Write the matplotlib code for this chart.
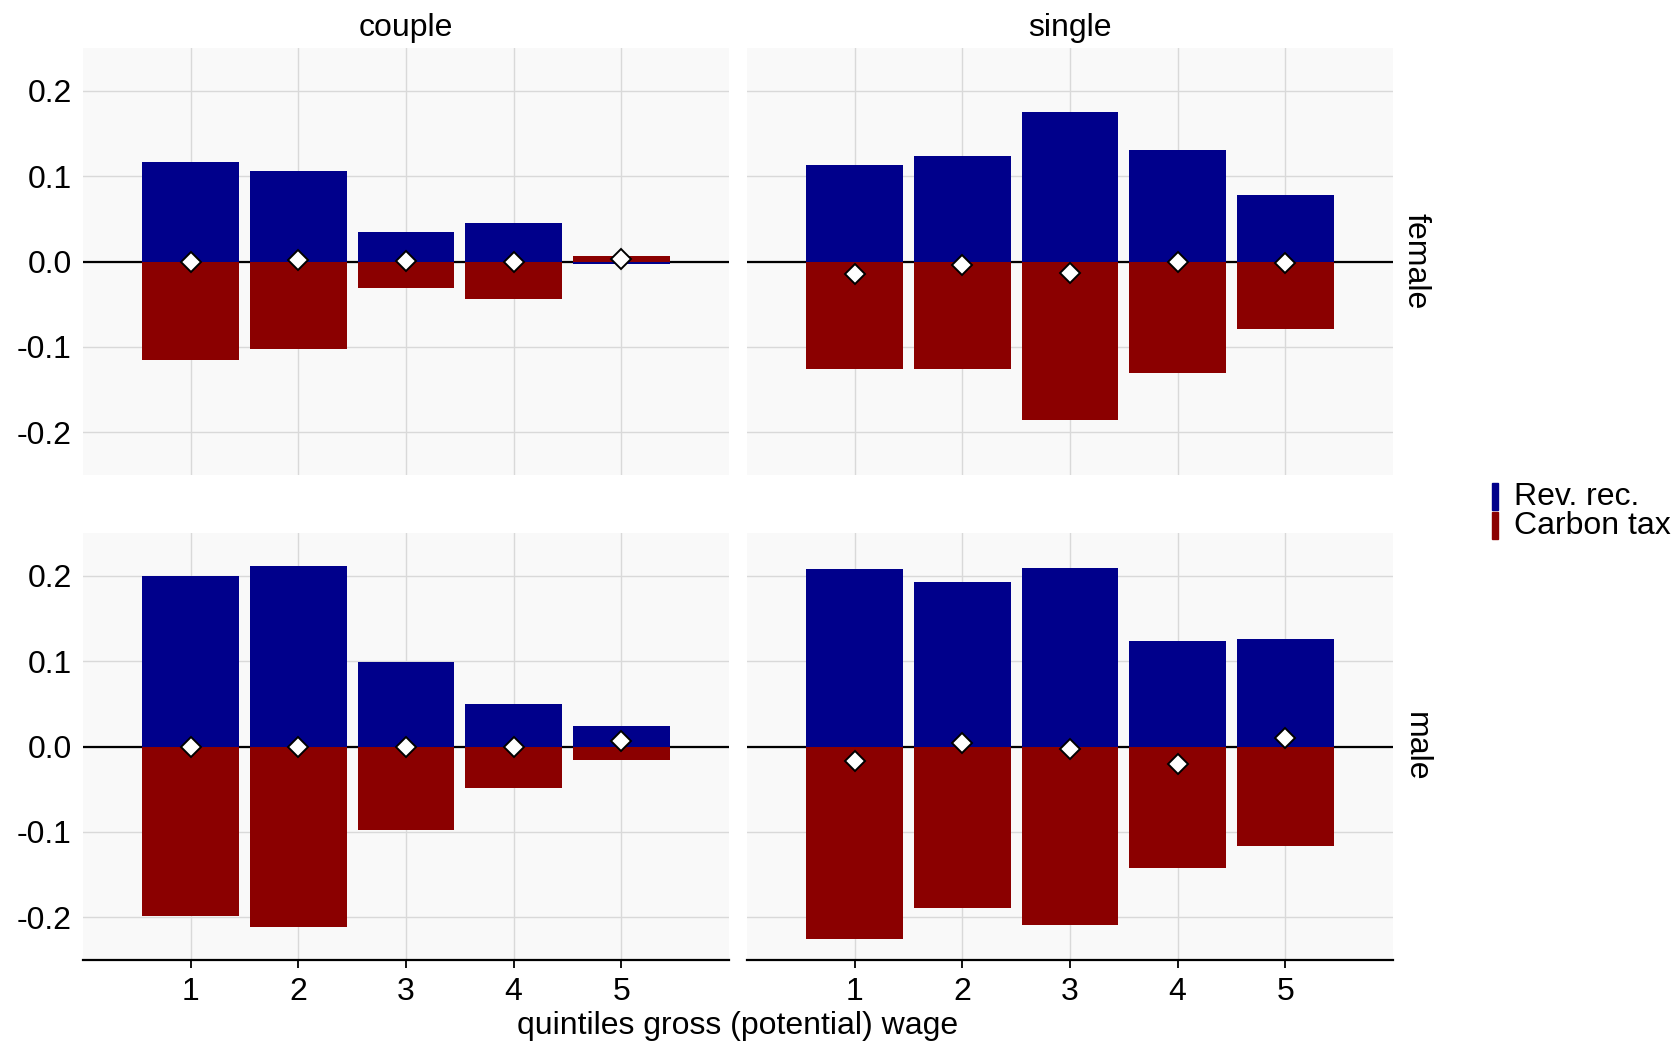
import matplotlib.pyplot as plt

plt.rcParams['font.family'] = ['Liberation Sans', 'DejaVu Sans']
plt.rcParams['axes.unicode_minus'] = False

quintiles = [1, 2, 3, 4, 5]
households = ['couple', 'single']
genders = ['female', 'male']

# revenue recycling (positive side), carbon tax (negative side), net effect
rev_rec = {
    ('female', 'couple'): [0.116, 0.106, 0.035, 0.045, -0.0025],
    ('female', 'single'): [0.1125, 0.124, 0.175, 0.131, 0.0775],
    ('male', 'couple'): [0.200, 0.211, 0.099, 0.050, 0.024],
    ('male', 'single'): [0.2075, 0.1925, 0.209, 0.124, 0.126],
}
carbon_tax = {
    ('female', 'couple'): [-0.115, -0.103, -0.031, -0.044, 0.006],
    ('female', 'single'): [-0.126, -0.126, -0.186, -0.130, -0.079],
    ('male', 'couple'): [-0.199, -0.211, -0.0975, -0.049, -0.016],
    ('male', 'single'): [-0.225, -0.189, -0.209, -0.1425, -0.116],
}
net = {
    ('female', 'couple'): [0.0, 0.002, 0.001, 0.0, 0.003],
    ('female', 'single'): [-0.015, -0.004, -0.014, 0.0, -0.002],
    ('male', 'couple'): [0.0, 0.0, 0.0, 0.0, 0.006],
    ('male', 'single'): [-0.0175, 0.004, -0.0025, -0.020, 0.010],
}

BLUE = '#00008B'
RED = '#8B0000'
PANEL_BG = '#F9F9F9'
GRID = '#D9D9D9'
FS = 23

fig = plt.figure(figsize=(16.72, 10.45), dpi=100)

W, H = 1672, 1045
lefts = [83, 747]
pw = 646
tops = [48, 533]
ph = 427

for r, g in enumerate(genders):
    for c, hh in enumerate(households):
        x0 = lefts[c] / W
        y0 = 1 - (tops[r] + ph) / H
        ax = fig.add_axes([x0, y0, pw / W, ph / H])
        ax.set_facecolor(PANEL_BG)
        ax.set_xlim(0, 6)
        ax.set_ylim(-0.25, 0.25)
        ax.set_xticks(quintiles)
        ax.set_yticks([-0.2, -0.1, 0.0, 0.1, 0.2])
        ax.grid(True, color=GRID, linewidth=1.0)
        ax.set_axisbelow(True)
        for s in ax.spines.values():
            s.set_visible(False)

        ax.axhline(0, color='black', linewidth=1.6, zorder=1)
        ax.bar(quintiles, rev_rec[(g, hh)], width=0.9, color=BLUE, zorder=2, label='Rev. rec.')
        ax.bar(quintiles, carbon_tax[(g, hh)], width=0.9, color=RED, zorder=2, label='Carbon tax')
        ax.plot(quintiles, net[(g, hh)], linestyle='none', marker='D', markersize=10,
                markerfacecolor='white', markeredgecolor='black', markeredgewidth=1.4, zorder=3)

        ax.tick_params(axis='y', length=0, labelsize=FS, pad=8)
        if c == 1:
            ax.tick_params(axis='y', labelleft=False)
        if r == 1:
            ax.spines['bottom'].set_visible(True)
            ax.spines['bottom'].set_linewidth(1.6)
            ax.tick_params(axis='x', length=6, width=1.3, labelsize=FS, pad=6)
        else:
            ax.tick_params(axis='x', length=0, labelbottom=False)
            ax.set_title(hh, fontsize=FS, pad=9)
        if c == 1:
            ax.text(1.035, 0.5, g, transform=ax.transAxes, rotation=-90,
                    ha='center', va='center', fontsize=FS)

fig.text((83 + 747 + pw) / 2 / W, 1 - 1026 / H, 'quintiles gross (potential) wage',
         ha='center', va='center', fontsize=FS)

# legend with thin vertical keys
for i, (lab, col) in enumerate([('Rev. rec.', BLUE), ('Carbon tax', RED)]):
    yc = 497 + i * 29
    fig.patches.append(plt.Rectangle((1492 / W, 1 - (yc + 13) / H), 6 / W, 27 / H,
                                     transform=fig.transFigure, color=col))
    fig.text(1514 / W, 1 - yc / H, lab, ha='left', va='center', fontsize=FS)

fig.savefig('out.png', dpi=100)
